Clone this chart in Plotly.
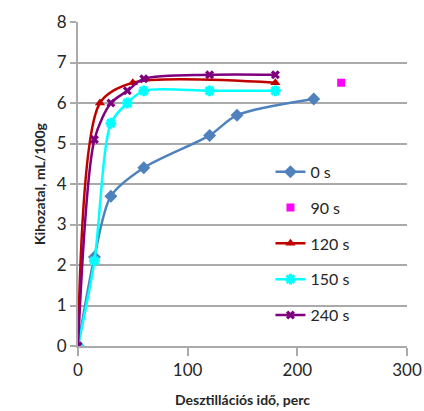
import plotly.graph_objects as go

x_0s = [0, 15, 30, 60, 120, 145, 215]
y_0s = [0, 2.2, 3.7, 4.4, 5.2, 5.7, 6.1]
x_90s = [0, 240]
y_90s = [0, 6.5]
x_120s = [0, 20, 50, 180]
y_120s = [0, 6.0, 6.5, 6.5]
x_150s = [0, 15, 30, 45, 60, 120, 180]
y_150s = [0, 2.1, 5.5, 6.0, 6.3, 6.3, 6.3]
x_240s = [0, 15, 30, 45, 60, 120, 180]
y_240s = [0, 5.1, 6.0, 6.3, 6.6, 6.7, 6.7]
y_ticks = [0, 1, 2, 3, 4, 5, 6, 7, 8]
x_ticks = [0, 100, 200, 300]

FONT = "Lato"
GRID = "#AAAAAA"
fig = go.Figure()

def add(name, xs, ys, color, symbol, mode="lines+markers", size=9, lw=None):
    marker = dict(color=color, symbol=symbol, size=size)
    if lw:
        marker["line"] = dict(color=color, width=lw)
    fig.add_trace(go.Scatter(
        x=xs, y=ys, name=name, mode=mode,
        line=dict(color=color, width=2.5, shape="spline", smoothing=0.8),
        marker=marker, legendgroup=name,
    ))

add("0 s", x_0s, y_0s, "#4F81BD", "diamond", size=10)
add("90 s", x_90s, y_90s, "#FF00FF", "square", mode="markers", size=8)
add("120 s", x_120s, y_120s, "#C00000", "triangle-up", size=9)
add("150 s", x_150s, y_150s, "#00FFFF", "asterisk", size=9, lw=3)
add("240 s", x_240s, y_240s, "#7F007F", "x", size=8)

fig.update_layout(
    template="none",
    width=424, height=411,
    margin=dict(l=78, r=17, t=22, b=65, autoexpand=False),
    paper_bgcolor="white", plot_bgcolor="rgba(0,0,0,0)",
    font=dict(family=FONT, color="#262626"),
    legend=dict(x=0.585, y=0.59, xanchor="left", yanchor="top",
                bgcolor="rgba(0,0,0,0)", font=dict(size=16, family=FONT),
                tracegroupgap=12),
    xaxis=dict(range=[0, 300], tickvals=x_ticks, showgrid=False, automargin=False,
               showline=True, linecolor=GRID, linewidth=2,
               ticks="outside", ticklen=8, tickwidth=2, tickcolor=GRID,
               tickfont=dict(size=17, family=FONT), zeroline=False,
               title=dict(text="<b>Desztillációs idő, perc</b>", font=dict(size=14, family=FONT), standoff=16)),
    yaxis=dict(range=[0, 8], tickvals=y_ticks,
               showgrid=True, gridcolor=GRID, gridwidth=2,
               showline=True, linecolor=GRID, linewidth=2, automargin=False,
               ticks="outside", ticklen=6, tickwidth=2, tickcolor=GRID,
               tickfont=dict(size=17, family=FONT), zeroline=False,
               title=dict(text="<b>Kihozatal, mL/100g</b>", font=dict(size=14, family=FONT), standoff=8)),
)

fig.write_html("out.html")
